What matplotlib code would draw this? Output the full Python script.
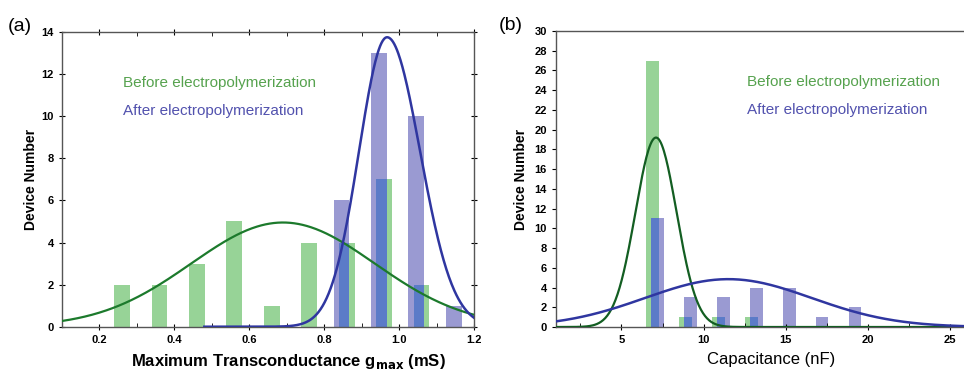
import numpy as np
import matplotlib
matplotlib.use("Agg")
import matplotlib.pyplot as plt
from matplotlib.ticker import MultipleLocator

plt.rcParams['font.family'] = ['Liberation Sans', 'DejaVu Sans']

# ---- panel (a): maximum transconductance ----
a_before_x = [0.26, 0.36, 0.46, 0.56, 0.66, 0.76, 0.86, 0.96, 1.06]
a_before_n = [2, 2, 3, 5, 1, 4, 4, 7, 2]
a_after_x = [0.846, 0.946, 1.045, 1.146]
a_after_n = [6, 13, 10, 1]
a_width = 0.042
# gaussian fits (amplitude, centre, sigma left, sigma right, start)
a_before_fit = (4.95, 0.69, 0.245, 0.245, 0.1)
a_after_fit = (13.75, 0.968, 0.075, 0.088, 0.48)

# ---- panel (b): capacitance ----
b_before_x = [6.9, 8.9, 10.9, 12.9]
b_before_n = [27, 1, 1, 1]
b_after_x = [7.2, 9.2, 11.2, 13.2, 15.2, 17.2, 19.2]
b_after_n = [11, 3, 3, 4, 4, 1, 2]
b_width = 0.78
b_before_fit = (19.2, 7.1, 1.25, 1.25, 1.0)
b_after_fit = (4.85, 11.5, 5.07, 5.07, 1.0)

green_bar = '#97d397'
purple_bar = '#9a9ad2'
overlap = '#5b7bc8'
green_line = '#1c7a2c'
blue_line = '#2f36a0'
green_txt = '#56a24e'
blue_txt = '#5252ae'


def fit_curve(p, xmax):
    amp, mu, sl, sr, x0 = p
    x = np.linspace(x0, xmax, 400)
    s = np.where(x < mu, sl, sr)
    return x, amp * np.exp(-(x - mu) ** 2 / (2 * s ** 2))


def draw_bars(ax, gx, gn, px, pn, w):
    ax.bar(gx, gn, width=w, color=green_bar, zorder=1)
    ax.bar(px, pn, width=w, color=purple_bar, zorder=1)
    # darker colour where the two histograms overlap
    for x1, n1 in zip(gx, gn):
        for x2, n2 in zip(px, pn):
            lo = max(x1, x2) - w / 2
            hi = min(x1, x2) + w / 2
            if hi > lo:
                ax.bar((lo + hi) / 2, min(n1, n2), width=hi - lo,
                       color=overlap, zorder=2)


def style(ax):
    ax.tick_params(labelsize=8)
    for lab in ax.get_xticklabels() + ax.get_yticklabels():
        lab.set_fontweight('bold')
    for sp in ax.spines.values():
        sp.set_color('#555555')
        sp.set_linewidth(1.0)


fig = plt.figure(figsize=(9.64, 3.69), dpi=100)

# (a)
ax1 = fig.add_axes([0.0643, 0.1146, 0.4274, 0.7987])
draw_bars(ax1, a_before_x, a_before_n, a_after_x, a_after_n, a_width)
x, y = fit_curve(a_before_fit, 1.2)
ax1.plot(x, y, color=green_line, lw=1.6, zorder=3)
x, y = fit_curve(a_after_fit, 1.2)
ax1.plot(x, y, color=blue_line, lw=1.8, zorder=4)
ax1.set_xlim(0.1, 1.2)
ax1.set_ylim(0, 14)
ax1.xaxis.set_minor_locator(MultipleLocator(0.1))
ax1.yaxis.set_major_locator(MultipleLocator(2))
ax1.set_xticks([0.2, 0.4, 0.6, 0.8, 1.0, 1.2])
ax1.set_xticklabels(['0.2', '0.4', '0.6', '0.8', '1.0', '1.2'])
ax1.tick_params(axis='x', which='major', direction='inout', length=5, top=True)
ax1.tick_params(axis='x', which='minor', direction='in', length=3, top=True)
ax1.tick_params(axis='y', which='major', direction='inout', length=5, right=True)
style(ax1)
ax1.set_xlabel('Maximum Transconductance g$_{\\mathbf{max}}$ (mS)',
               fontsize=12, fontweight='bold')
ax1.xaxis.set_label_coords(0.55, -0.085)
ax1.set_ylabel('Device Number', fontsize=10, fontweight='bold')
ax1.yaxis.set_label_coords(-0.058, 0.5)
ax1.text(0.148, 0.815, 'Before electropolymerization', transform=ax1.transAxes,
         color=green_txt, fontsize=11)
ax1.text(0.148, 0.718, 'After electropolymerization', transform=ax1.transAxes,
         color=blue_txt, fontsize=11)
fig.text(0.008, 0.915, '(a)', fontsize=14)

# (b)
ax2 = fig.add_axes([0.5765, 0.1138, 0.4263, 0.8022])
draw_bars(ax2, b_before_x, b_before_n, b_after_x, b_after_n, b_width)
x, y = fit_curve(b_before_fit, 26)
ax2.plot(x, y, color='#135e22', lw=1.6, zorder=3)
x, y = fit_curve(b_after_fit, 26)
ax2.plot(x, y, color=blue_line, lw=1.8, zorder=4)
ax2.set_xlim(1, 26)
ax2.set_ylim(0, 30)
ax2.xaxis.set_major_locator(MultipleLocator(5))
ax2.xaxis.set_minor_locator(MultipleLocator(2.5))
ax2.yaxis.set_major_locator(MultipleLocator(2))
ax2.tick_params(axis='x', which='major', direction='inout', length=5)
ax2.tick_params(axis='x', which='minor', direction='in', length=3)
ax2.tick_params(axis='y', which='major', direction='out', length=3)
style(ax2)
ax2.set_xlabel('Capacitance (nF)', fontsize=12)
ax2.xaxis.set_label_coords(0.524, -0.085)
ax2.set_ylabel('Device Number', fontsize=10, fontweight='bold')
ax2.yaxis.set_label_coords(-0.068, 0.5)
ax2.text(0.465, 0.815, 'Before electropolymerization', transform=ax2.transAxes,
         color=green_txt, fontsize=11)
ax2.text(0.465, 0.718, 'After electropolymerization', transform=ax2.transAxes,
         color=blue_txt, fontsize=11)
fig.text(0.517, 0.918, '(b)', fontsize=14)

fig.savefig('out.png', dpi=100)
